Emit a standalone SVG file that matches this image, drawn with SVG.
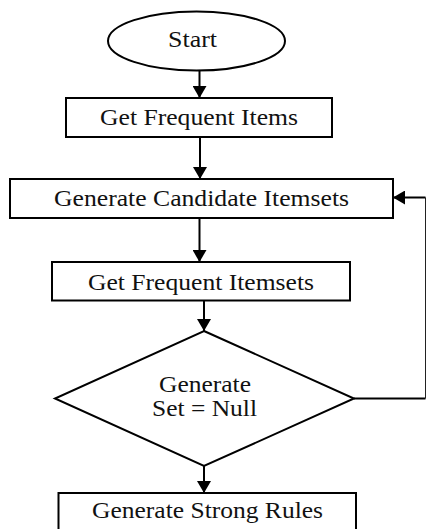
<svg xmlns="http://www.w3.org/2000/svg" width="426" height="529" viewBox="0 0 426 529">
<defs>
<style>
.n{fill:#fff;stroke:#000;stroke-width:2}
.t{font-family:"Liberation Serif","Times New Roman",serif;font-size:23px;fill:#111}
.c{stroke:#000;stroke-width:2;fill:none}
.fb{stroke:#222;stroke-width:1;fill:none}
</style>
<marker id="ah" viewBox="0 0 12 14" refX="12" refY="7" markerWidth="12" markerHeight="14" markerUnits="userSpaceOnUse" orient="auto">
<path d="M0,0 L12,7 L0,14 Z" fill="#000"/>
</marker>
</defs>
<rect width="426" height="529" fill="#fff"/>
<g id="connectors">
<line class="c" x1="199.5" y1="70" x2="199.5" y2="98" marker-end="url(#ah)"/>
<line class="c" x1="200" y1="137" x2="200" y2="179" marker-end="url(#ah)"/>
<line class="c" x1="199.5" y1="218" x2="199.5" y2="262" marker-end="url(#ah)"/>
<line class="c" x1="204" y1="300" x2="204" y2="331" marker-end="url(#ah)"/>
<line class="c" x1="204" y1="466" x2="204" y2="493" marker-end="url(#ah)"/>
<line class="c" x1="354" y1="398.5" x2="425.5" y2="398.5"/>
<line class="fb" x1="425.5" y1="398.5" x2="425.5" y2="197.5"/>
<line class="c" x1="425.5" y1="197.5" x2="393" y2="197.5" marker-end="url(#ah)"/>
</g>
<g id="start">
<ellipse class="n" cx="196.5" cy="41" rx="88.5" ry="29.5"/>
<text class="t" x="168" y="47" textLength="49" lengthAdjust="spacingAndGlyphs">Start</text>
</g>
<g id="get-frequent-items">
<rect class="n" x="66" y="98" width="266" height="39"/>
<text class="t" x="100" y="125" textLength="198" lengthAdjust="spacingAndGlyphs">Get Frequent Items</text>
</g>
<g id="generate-candidate-itemsets">
<rect class="n" x="10" y="179" width="383" height="39"/>
<text class="t" x="54" y="206" textLength="295" lengthAdjust="spacingAndGlyphs">Generate Candidate Itemsets</text>
</g>
<g id="get-frequent-itemsets">
<rect class="n" x="52" y="262" width="298" height="38.5"/>
<text class="t" x="88" y="290" textLength="226" lengthAdjust="spacingAndGlyphs">Get Frequent Itemsets</text>
</g>
<g id="decision">
<polygon class="n" points="204,331 354,398.5 204,466 55,398.5"/>
<text class="t" x="159" y="392" textLength="92" lengthAdjust="spacingAndGlyphs">Generate</text>
<text class="t" x="152" y="416" textLength="105" lengthAdjust="spacingAndGlyphs">Set = Null</text>
</g>
<g id="generate-strong-rules">
<rect class="n" x="58.5" y="493" width="297.5" height="40"/>
<text class="t" x="92" y="518" textLength="231" lengthAdjust="spacingAndGlyphs">Generate Strong Rules</text>
</g>
</svg>
